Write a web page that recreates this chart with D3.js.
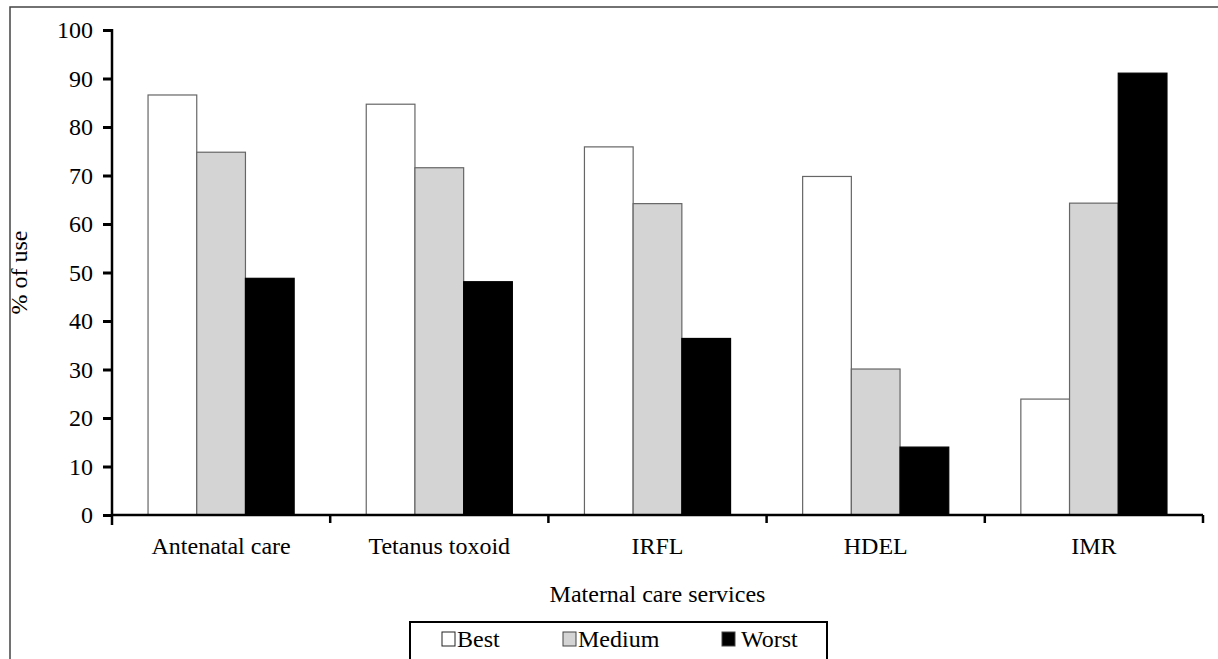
<!DOCTYPE html>
<html>
<head>
<meta charset="utf-8">
<script src="https://cdn.jsdelivr.net/npm/d3@7"></script>
<style>
  body { margin: 0; background: #fff; }
  svg, svg text, svg g { font-family: "Liberation Serif", "DejaVu Serif", serif !important; }
</style>
</head>
<body>
<div class="container"></div>
<script>
var categories = ["Antenatal care", "Tetanus toxoid", "IRFL", "HDEL", "IMR"];
var seriesNames = ["Best", "Medium", "Worst"];
var best   = [86.6, 84.7, 75.9, 69.8, 23.9];
var medium = [74.8, 71.6, 64.2, 30.1, 64.3];
var worst  = [48.8, 48.1, 36.4, 14.0, 91.1];
var yTicks = [0, 10, 20, 30, 40, 50, 60, 70, 80, 90, 100];

const WIDTH = 1218;
const HEIGHT = 659;
const LEFT = 112, RIGHT = 1203, TOP = 30, BOTTOM = 515;
const FONT = "Liberation Serif, DejaVu Serif, serif";

var colors = { Best: "#ffffff", Medium: "#d4d4d4", Worst: "#000000" };
var values = { Best: best, Medium: medium, Worst: worst };

var svg = d3.select('.container').append('svg')
	.attr('width', WIDTH)
	.attr('height', HEIGHT)
	.attr('font-family', FONT);

// outer frame
svg.append('rect')
	.attr('x', 10).attr('y', 7)
	.attr('width', 1240).attr('height', 700)
	.attr('fill', 'none')
	.attr('stroke', '#444')
	.attr('stroke-width', 1.5);

var x0 = d3.scaleBand()
	.domain(categories)
	.range([LEFT, RIGHT]);

var x1 = d3.scaleBand()
	.domain(seriesNames)
	.range([0, x0.bandwidth()])
	.paddingOuter(0.74);

var y = d3.scaleLinear()
	.domain([0, 100])
	.range([BOTTOM, TOP]);

// bars
var groups = svg.append('g').selectAll('g')
	.data(categories)
	.enter().append('g')
	.attr('transform', function(d){ return "translate(" + x0(d) + ",0)"; });

groups.selectAll('rect')
	.data(function(d, i){ return seriesNames.map(function(s){ return { s: s, v: values[s][i] }; }); })
	.enter().append('rect')
	.attr('x', function(d){ return x1(d.s); })
	.attr('y', function(d){ return y(d.v); })
	.attr('width', x1.bandwidth())
	.attr('height', function(d){ return BOTTOM - y(d.v); })
	.attr('fill', function(d){ return colors[d.s]; })
	.attr('stroke', function(d){ return d.s === "Worst" ? "#000" : "#666"; })
	.attr('stroke-width', 1.2);

// y axis
var yAxis = d3.axisLeft(y)
	.tickValues(yTicks)
	.tickSize(9)
	.tickPadding(10)
	.tickSizeOuter(0);

var gy = svg.append('g')
	.attr('transform', "translate(" + LEFT + ",0)")
	.call(yAxis)
	.attr('font-family', FONT);
gy.select('.domain').remove();
gy.selectAll('.tick line').attr('stroke', '#000').attr('stroke-width', 3);
gy.selectAll('.tick text').attr('font-family', FONT).style('font-size', '24px');
svg.append('line')
	.attr('x1', LEFT).attr('x2', LEFT)
	.attr('y1', TOP - 1).attr('y2', BOTTOM + 10)
	.attr('stroke', '#000').attr('stroke-width', 2.5);

// x axis with boundary ticks
var xAxis = d3.axisBottom(x0).tickSize(0).tickPadding(22);
var gx = svg.append('g')
	.attr('transform', "translate(0," + BOTTOM + ")")
	.call(xAxis)
	.attr('font-family', FONT);
gx.select('.domain').remove();
gx.selectAll('.tick text').attr('font-family', FONT).style('font-size', '24px');

svg.append('line')
	.attr('x1', LEFT).attr('x2', RIGHT)
	.attr('y1', BOTTOM).attr('y2', BOTTOM)
	.attr('stroke', '#000').attr('stroke-width', 2.5);

svg.append('g').selectAll('line')
	.data(categories.slice(1).concat(["end"]))
	.enter().append('line')
	.attr('x1', function(d){ return d === "end" ? RIGHT : x0(d); })
	.attr('x2', function(d){ return d === "end" ? RIGHT : x0(d); })
	.attr('y1', BOTTOM).attr('y2', BOTTOM + 8)
	.attr('stroke', '#000').attr('stroke-width', 2.5);

// axis titles
svg.append('text')
	.attr('x', (LEFT + RIGHT) / 2)
	.attr('y', 602)
	.attr('text-anchor', 'middle')
	.style('font-size', '24px')
	.text("Maternal care services");

svg.append('text')
	.attr('transform', "translate(27," + ((TOP + BOTTOM) / 2) + ") rotate(-90)")
	.attr('text-anchor', 'middle')
	.style('font-size', '24px')
	.text("% of use");

// legend
svg.append('rect')
	.attr('x', 410).attr('y', 622)
	.attr('width', 417).attr('height', 60)
	.attr('fill', '#fff')
	.attr('stroke', '#000')
	.attr('stroke-width', 2);

var legendX = [442, 563, 722];
var legend = svg.append('g').selectAll('g')
	.data(seriesNames)
	.enter().append('g')
	.attr('transform', function(d, i){ return "translate(" + legendX[i] + ",0)"; });

legend.append('rect')
	.attr('x', 0).attr('y', 632)
	.attr('width', 13).attr('height', 14)
	.attr('fill', function(d){ return colors[d]; })
	.attr('stroke', function(d){ return d === "Best" ? "#222" : "#444"; })
	.attr('stroke-width', 1);

legend.append('text')
	.attr('x', function(d){ return d === "Worst" ? 19 : 15; })
	.attr('y', 647)
	.style('font-size', '24px')
	.text(function(d){ return d; });
</script>
</body>
</html>
